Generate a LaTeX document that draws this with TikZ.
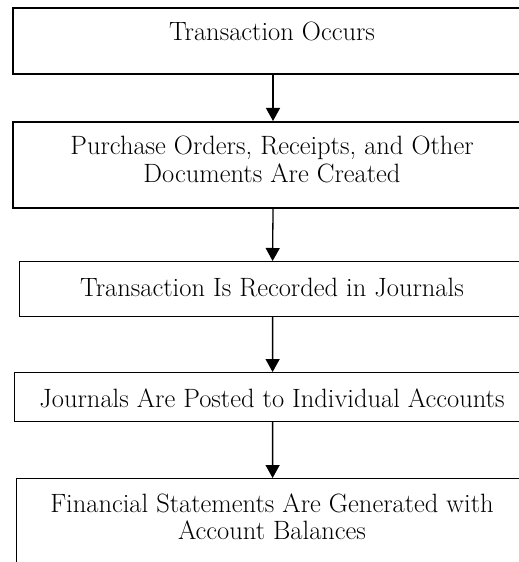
\documentclass[tikz,border=0pt]{standalone}
\usetikzlibrary{arrows.meta}

\tikzset{
  heavybox/.style={draw=black, line width=2bp, fill=white, rectangle, inner sep=0pt},
  lightbox/.style={draw=black, line width=1.2bp, fill=white, rectangle, inner sep=0pt},
  label/.style={anchor=base, inner sep=0pt, font=\fontsize{26.5bp}{28bp}\selectfont},
  flow/.style={line width=1.3bp, -{Triangle[length=13bp,width=14bp]}}
}

\begin{document}
\begin{tikzpicture}[x=1bp,y=-1bp]
  \useasboundingbox (0,0) rectangle (519,562);
  \clip (0,0) rectangle (519,562);

  % process boxes (they run past the right and bottom edges of the page)
  \node[heavybox, minimum width=520bp, minimum height=66bp, anchor=north west] (b1) at (12,7) {};
  \node[heavybox, minimum width=520bp, minimum height=86bp, anchor=north west] (b2) at (12,121) {};
  \node[lightbox, minimum width=506bp, minimum height=55bp, anchor=north west] (b3) at (19,261) {};
  \node[lightbox, minimum width=516bp, minimum height=49bp, anchor=north west] (b4) at (14,372) {};
  \node[lightbox, minimum width=512bp, minimum height=110bp, anchor=north west] (b5) at (16,478) {};

  % box texts
  \node[label] (t1) at (272,41) {Transaction Occurs};
  \node[label] (t2a) at (272,155) {Purchase Orders, Receipts, and Other};
  \node[label] (t2b) at (272,183) {Documents Are Created};
  \node[label] (t3) at (272,296) {Transaction Is Recorded in Journals};
  \node[label] (t4) at (272,407) {Journals Are Posted to Individual Accounts};
  \node[label] (t5a) at (272,512) {Financial Statements Are Generated with};
  \node[label] (t5b) at (272,539) {Account Balances};

  % connectors
  \draw[flow] (b1.south) -- (b2.north);
  \draw[flow] (b2.south) -- (b3.north);
  \draw[flow] (b3.south) -- (b4.north);
  \draw[flow] (b4.south) -- (b5.north);
\end{tikzpicture}
\end{document}
